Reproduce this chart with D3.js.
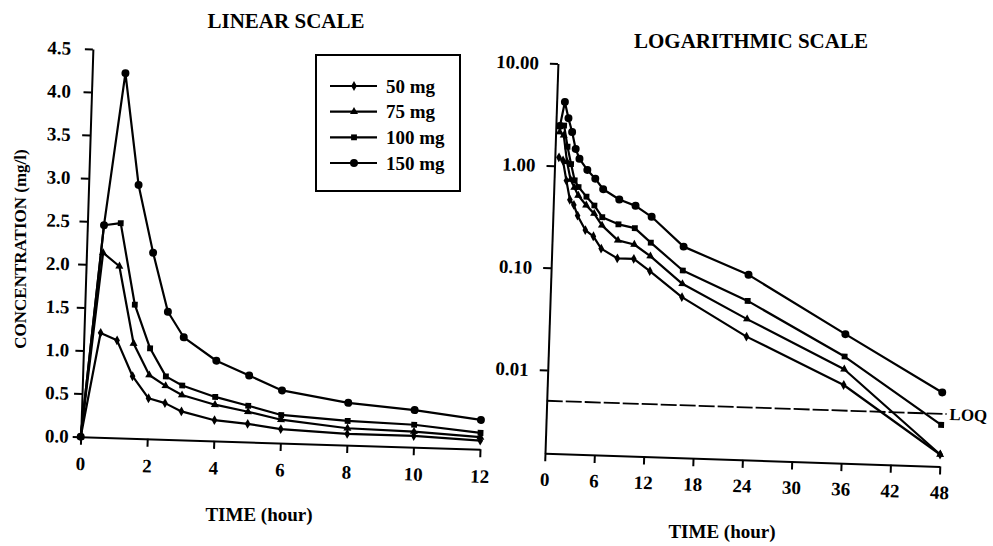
<!DOCTYPE html>
<html>
<head>
<meta charset="utf-8">
<script src="https://cdnjs.cloudflare.com/ajax/libs/d3/7.8.5/d3.min.js"></script>
<style>
body{margin:0;background:#fff;}
svg text{font-family:"Liberation Serif","Times New Roman",serif;font-weight:bold;fill:#000;}
.axis path,.axis line{stroke:#000;stroke-width:2;}
.axis text{font-size:19px;}
.curve{fill:none;stroke:#000;stroke-width:2.2;stroke-linejoin:round;}
</style>
</head>
<body>
<div id="chart"></div>
<script>
var w = 993;
var h = 546;

// sampling times (hour) shared by both panels
var hours = [0,0.5,1,1.5,2,2.5,3,4,5,6,8,10,12,16,24,36,48];
var doses = ["50 mg","75 mg","100 mg","150 mg"];
// concentration (mg/l) for each dose
var conc50  = [0,1.21,1.13,0.72,0.47,0.42,0.33,0.24,0.21,0.16,0.13,0.13,0.10,0.057,0.0246,0.0089,0.0020];
var conc75  = [0,2.14,1.99,1.10,0.74,0.62,0.52,0.42,0.35,0.27,0.195,0.18,0.14,0.077,0.0365,0.0127,0.0020];
var conc100 = [0,2.46,2.49,1.55,1.05,0.73,0.63,0.51,0.42,0.325,0.28,0.26,0.19,0.104,0.055,0.0169,0.0039];
var conc150 = [0,2.46,4.23,2.94,2.16,1.48,1.19,0.93,0.77,0.61,0.49,0.43,0.34,0.178,0.099,0.028,0.0081];
var LOQ = 0.005;

// axis ticks
var linTicksX = [0,2,4,6,8,10,12];
var linTicksY = [0,0.5,1,1.5,2,2.5,3,3.5,4,4.5];
var linLabelsY = ["0.0","0.5","1.0","1.5","2.0","2.5","3.0","3.5","4.0","4.5"];
var logTicksX = [0,6,12,18,24,30,36,42,48];
var logTicksY = [0.01,0.1,1,10];
var logLabelsY = ["0.01","0.10","1.00","10.00"];

var series = [conc50, conc75, conc100, conc150];
var symbols = [d3.symbolDiamond, d3.symbolTriangle, d3.symbolSquare, d3.symbolCircle];
var symSize = [28, 28, 34, 50];

var tiltL = 1.8; // the scanned figure leans a little
var tiltR = 1.9;

var svg = d3.select("#chart")
            .append("svg")
            .attr("width", w)
            .attr("height", h);

// build point lists for one panel, only times inside the range
function pointsFor(vals, tmin, tmax){
    var pts = [];
    hours.forEach(function(t, i){
        if(t >= tmin && t <= tmax) pts.push({t: t, c: vals[i]});
    });
    return pts;
}

function drawSeries(g, xScale, yScale, tmin, tmax){
    var line = d3.line()
            .x(function(d){ return xScale(d.t); })
            .y(function(d){ return yScale(d.c); });
    series.forEach(function(vals, k){
        var pts = pointsFor(vals, tmin, tmax);
        g.append("path")
            .datum(pts)
            .attr("class", "curve")
            .attr("d", line);
        g.selectAll(".m" + k)
            .data(pts)
            .enter()
            .append("path")
            .attr("class", "m" + k)
            .attr("transform", function(d){ return "translate(" + xScale(d.t) + "," + yScale(d.c) + ")"; })
            .attr("d", d3.symbol().type(symbols[k]).size(symSize[k]));
    });
}

// ---- linear panel (rotated a bit like the scan)
var gL = svg.append("g")
            .attr("transform", "translate(80.7,436.7) rotate(" + tiltL + ")");

var xLin = d3.scaleLinear().domain([0,12]).range([0,399.5]);
var yLin = d3.scaleLinear().domain([0,4.5]).range([0,-388]);

gL.append("g")
    .attr("class", "axis")
    .call(d3.axisBottom(xLin).tickValues(linTicksX).tickSize(8).tickSizeOuter(0).tickPadding(12)
          .tickFormat(d3.format("d")));
var yAxL = gL.append("g")
    .attr("class", "axis")
    .call(d3.axisLeft(yLin).tickValues(linTicksY).tickSize(8).tickSizeOuter(0).tickPadding(3)
          .tickFormat(function(d, i){ return linLabelsY[i]; }));
// labels on the scan stay nearly upright, pull upper ones back left
yAxL.selectAll(".tick text")
    .attr("x", function(d){ return -12 + yLin(d) * Math.sin(tiltL * Math.PI / 180) * 0.8; });

drawSeries(gL, xLin, yLin, 0, 12);

// ---- logarithmic panel
var gR = svg.append("g")
            .attr("transform", "translate(545,453.3) rotate(" + tiltR + ")");

var xLog = d3.scaleLinear().domain([0,48]).range([0,395]);
var yLog = d3.scaleLog().domain([0.00153,10]).range([0,-390]);

gR.append("g")
    .attr("class", "axis")
    .call(d3.axisBottom(xLog).tickValues(logTicksX).tickSize(8).tickSizeOuter(0).tickPadding(11)
          .tickFormat(d3.format("d")));
gR.append("g")
    .attr("class", "axis")
    .call(d3.axisLeft(yLog).tickValues(logTicksY).tickSize(8).tickSizeOuter(0).tickPadding(11)
          .tickFormat(function(d, i){ return logLabelsY[i]; }));

// limit of quantification
gR.append("line")
    .attr("x1", 0)
    .attr("x2", xLog(48) + 5)
    .attr("y1", yLog(LOQ))
    .attr("y2", yLog(LOQ))
    .attr("stroke", "#000")
    .attr("stroke-width", 1.8)
    .attr("stroke-dasharray", "16,3");
gR.append("text")
    .attr("x", xLog(48) + 8)
    .attr("y", yLog(LOQ))
    .attr("dy", "0.35em")
    .style("font-size", "17px")
    .text("LOQ");

drawSeries(gR, xLog, yLog, 0.5, 48);

// ---- titles and axis labels
svg.append("text")
    .attr("x", 286).attr("y", 28)
    .attr("text-anchor", "middle")
    .style("font-size", "21px")
    .text("LINEAR SCALE");
svg.append("text")
    .attr("x", 751).attr("y", 48)
    .attr("text-anchor", "middle")
    .style("font-size", "21px")
    .text("LOGARITHMIC SCALE");
svg.append("text")
    .attr("transform", "translate(26,249) rotate(-90)")
    .attr("text-anchor", "middle")
    .style("font-size", "17px")
    .text("CONCENTRATION (mg/l)");
svg.append("text")
    .attr("x", 259).attr("y", 521)
    .attr("text-anchor", "middle")
    .style("font-size", "19px")
    .text("TIME (hour)");
svg.append("text")
    .attr("x", 722).attr("y", 538)
    .attr("text-anchor", "middle")
    .style("font-size", "19px")
    .text("TIME (hour)");

// ---- legend
var leg = svg.append("g");
leg.append("rect")
    .attr("x", 316).attr("y", 55)
    .attr("width", 144).attr("height", 136)
    .attr("fill", "none")
    .attr("stroke", "#000")
    .attr("stroke-width", 2);
var legY = d3.scalePoint().domain(doses).range([86,163]);
doses.forEach(function(name, k){
    leg.append("line")
        .attr("x1", 330).attr("x2", 377)
        .attr("y1", legY(name)).attr("y2", legY(name))
        .attr("stroke", "#000")
        .attr("stroke-width", 2.2);
    leg.append("path")
        .attr("transform", "translate(354," + legY(name) + ")")
        .attr("d", d3.symbol().type(symbols[k]).size(symSize[k]));
    leg.append("text")
        .attr("x", 386).attr("y", legY(name))
        .attr("dy", "0.35em")
        .style("font-size", "19px")
        .text(name);
});
</script>
</body>
</html>
